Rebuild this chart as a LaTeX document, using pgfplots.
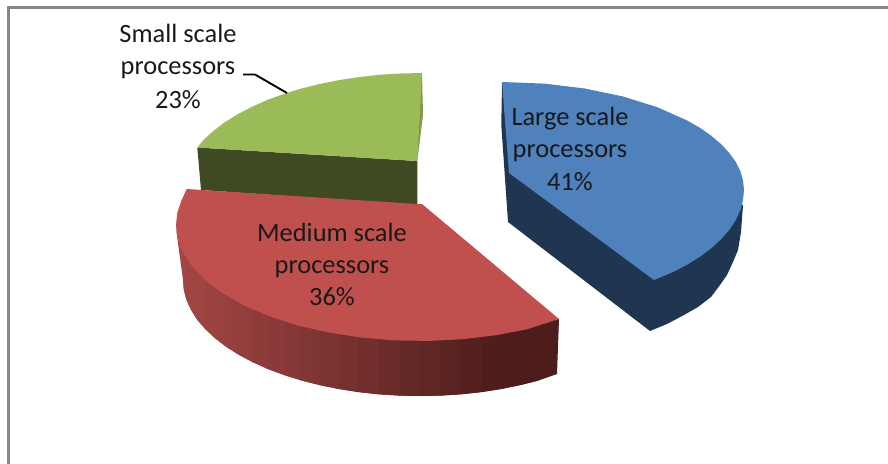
\documentclass[border=0pt]{standalone}
\usepackage{pgfplots}
\pgfplotsset{compat=1.18}
\usepackage{fontspec}
\setmainfont{Carlito}
\definecolor{frameGray}{HTML}{868686}
\definecolor{blueTop}{HTML}{4F81BD}
\definecolor{blueSide}{HTML}{1F3550}
\definecolor{redTop}{HTML}{C0504D}
\definecolor{redSideL}{HTML}{A34644}
\definecolor{redSideR}{HTML}{4C1D1B}
\definecolor{greenTop}{HTML}{9BBB59}
\definecolor{greenSide}{HTML}{3F4A23}
\definecolor{greenEdge}{HTML}{7F9A4A}
% One slice of the shaded rim of the red slice; it reaches under the next slice
\newcommand{\rim}[9]{\addplot[fill=redSideR!#1!redSideL, draw=none]
  coordinates {(#2,#3) (#5,#6) (#7,#8) (#7,#9) (#2,#4) (#2,#3)};}
\newcommand{\lab}[3]{\node[anchor=base, inner sep=0pt, text=black!90] at (axis cs:#1,#2) {\fontsize{26.4bp}{30bp}\selectfont #3};}
\begin{document}
\begin{tikzpicture}
\begin{axis}[
  scale only axis, width=888bp, height=464bp,
  xmin=0, xmax=888, ymin=0, ymax=464, y dir=reverse,
  axis lines=none, no markers, clip=true,
]
% Corners of the plotting area, to hold the picture's extent
\addplot[draw=none] coordinates {(0,0) (888,464)};
% Chart frame
\addplot[draw=frameGray, line width=3bp, line join=miter] coordinates {(8.7,464) (8.7,7.5) (888,7.5)};

% Large scale processors, pulled out of the pie
\addplot[fill=blueSide, draw=none] coordinates {
  (502,82) (501.3,125) (508,222) (650,331) (667,324) (684,315) (698,307) (711,297)
  (720,285) (727,275) (733,262) (738,250) (741,232) (743,205) (700,180) (502,82)};
\addplot[fill=blueTop, draw=none] coordinates {
  (502,82) (544,83.6) (584.8,88.5) (623,96.5) (657.6,107.3) (687.4,120.6) (700.2,128)
  (711.6,136) (721.3,144.3) (729.4,153.1) (735.8,162) (740.4,171.2) (743,180.6) (744,190)
  (743,200.1) (740.4,210.1) (735.8,220) (729.4,229.7) (721.3,239) (711.6,248) (700.2,256.5)
  (687.4,264.6) (673.1,272) (654,280) (589,232) (509,173) (502,82)};

% Small scale processors
\addplot[fill=greenEdge, draw=none] coordinates {(422,73) (423,115) (417.3,161) (410,120) (422,73)};
\addplot[fill=greenSide, draw=none] coordinates {(197.3,147.5) (417.3,161) (417.3,205) (201,190) (197.3,147.5)};
\addplot[fill=greenTop, draw=none] coordinates {
  (197.3,147.5) (203.6,139.9) (213.3,131) (224.6,122.4) (237.4,114.4) (251.6,107) (267,100.1)
  (283.7,94) (301.5,88.5) (320.1,83.9) (339.6,80) (359.6,77) (380,74.7) (401,73.5) (422,73)
  (417.3,161) (197.3,147.5)};

% Medium scale processors: shaded rim, then the top face
\rim{0}{176.5}{232}{225}{183}{280}{183.9}{290.1}{232}
\rim{0}{183}{280}{222}{183.9}{290.1}{186.6}{300.2}{242}
\rim{1}{183.9}{290.1}{232}{186.6}{300.2}{191.1}{310}{252}
\rim{2}{186.6}{300.2}{242}{191.1}{310}{197.2}{319.7}{262}
\rim{3}{191.1}{310}{252}{197.2}{319.7}{205.2}{329}{271}
\rim{6}{197.2}{319.7}{262}{205.2}{329}{214.8}{338}{280}
\rim{8}{205.2}{329}{271}{214.8}{338}{225.9}{346.6}{289}
\rim{12}{214.8}{338}{280}{225.9}{346.6}{238.5}{354.6}{297}
\rim{15}{225.9}{346.6}{289}{238.5}{354.6}{252.4}{362}{304}
\rim{20}{238.5}{354.6}{297}{252.4}{362}{267.6}{368.9}{311}
\rim{24}{252.4}{362}{304}{267.6}{368.9}{284}{375}{317}
\rim{29}{267.6}{368.9}{311}{284}{375}{301.5}{380.5}{322}
\rim{35}{284}{375}{317}{301.5}{380.5}{319.8}{385.1}{327}
\rim{40}{301.5}{380.5}{322}{319.8}{385.1}{338.9}{389}{331}
\rim{46}{319.8}{385.1}{327}{338.9}{389}{358.6}{392.1}{334}
\rim{52}{338.9}{389}{331}{358.6}{392.1}{378.8}{394.3}{336}
\rim{59}{358.6}{392.1}{334}{378.8}{394.3}{399.4}{395.6}{338}
\rim{65}{378.8}{394.3}{336}{399.4}{395.6}{420}{396}{338}
\rim{72}{399.4}{395.6}{338}{420}{396}{440.6}{395.6}{338}
\rim{78}{420}{396}{338}{440.6}{395.6}{461.2}{394.3}{336}
\rim{85}{440.6}{395.6}{338}{461.2}{394.3}{481.4}{392.1}{334}
\rim{91}{461.2}{394.3}{336}{481.4}{392.1}{501.1}{389}{331}
\rim{97}{481.4}{392.1}{334}{501.1}{389}{520.2}{385.1}{327}
\rim{100}{501.1}{389}{331}{520.2}{385.1}{538.5}{380.5}{322}
\addplot[fill=redSideR, draw=none] coordinates {(520.2,385.1) (538.5,380.5) (557,374) (559,319) (520.2,327) (520.2,385.1)};
\addplot[fill=redTop, draw=none] coordinates {
  (186.7,189) (417.3,204) (422,204) (559,319) (526.9,329.3) (495.4,335.3) (462.4,339.2)
  (428.5,340.9) (394.4,340.4) (361,337.5) (328.6,332.5) (298,325.5) (269.7,316.4) (244.5,305.6)
  (222.6,293.2) (204.6,279.4) (190.7,264.7) (181.3,249.1) (177.3,237.2) (176,225) (177.3,212.8)
  (181.3,200.9) (186.7,189)};

% Leader line of the small slice's label
\addplot[draw=black, line width=1.9bp] coordinates {(243,74.5) (255,74.5) (287,93)};

% Data labels
\lab{178}{42.5}{Small scale}
\lab{178}{75}{processors}
\lab{178}{108}{23\%}
\lab{570}{125}{Large scale}
\lab{570}{157}{processors}
\lab{570}{190}{41\%}
\lab{332}{241}{Medium scale}
\lab{332}{273.5}{processors}
\lab{332}{305}{36\%}
\end{axis}
\end{tikzpicture}
\end{document}
